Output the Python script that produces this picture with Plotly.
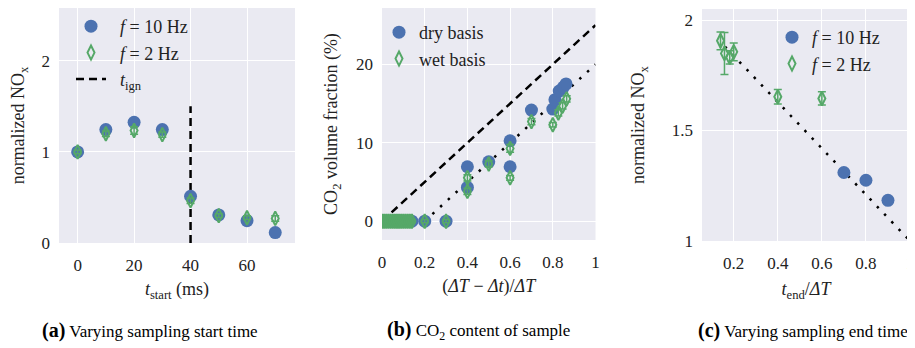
import plotly.graph_objects as go

# ---------------- data ----------------
# (a) varying sampling start time
a_t = [0, 10, 20, 30, 40, 50, 60, 70]
a_10hz = [1.0, 1.245, 1.325, 1.245, 0.513, 0.308, 0.245, 0.115]
a_2hz = [1.0, 1.20, 1.235, 1.19, 0.465, 0.30, 0.278, 0.27]
a_2hz_err = [0.02, 0.03, 0.04, 0.03, 0.03, 0.02, 0.02, 0.03]
a_ign_x = [40, 40]
a_ign_y = [0, 1.5]

# (b) CO2 content of sample
b_dry_x = [0, 0.01, 0.02, 0.03, 0.04, 0.05, 0.06, 0.07, 0.08, 0.09, 0.10, 0.11, 0.12, 0.13, 0.14,
           0.2, 0.3, 0.4, 0.4, 0.5, 0.6, 0.6, 0.7, 0.8, 0.81, 0.83, 0.85, 0.862]
b_dry_y = [0, 0, 0, 0, 0, 0, 0, 0, 0, 0, 0, 0, 0, 0, 0,
           0, 0, 6.94, 4.3, 7.57, 10.26, 6.94, 14.17, 14.3, 15.5, 16.6, 17.1, 17.5]
b_wet_x = [0, 0.01, 0.02, 0.03, 0.04, 0.05, 0.06, 0.07, 0.08, 0.09, 0.10, 0.11, 0.12, 0.13, 0.14,
           0.2, 0.3, 0.4, 0.4, 0.5, 0.6, 0.6, 0.7, 0.8, 0.826, 0.846, 0.865]
b_wet_y = [0, 0, 0, 0, 0, 0, 0, 0, 0, 0, 0, 0, 0, 0, 0,
           0, 0, 5.53, 3.8, 7.3, 9.28, 5.53, 12.7, 12.3, 13.8, 14.7, 15.6]
b_wet_err = [0.2] * 17 + [0.4, 0.4, 0.4, 0.5, 0.3, 0.4, 0.3, 0.4, 0.4, 0.4]
b_dash_x = [0.0, 1.0]
b_dash_y = [0.0, 25.0]
b_dot_x = [0.2, 1.0]
b_dot_y = [0.0, 20.0]

# (c) varying sampling end time
c_10hz_x = [0.7, 0.8, 0.9]
c_10hz_y = [1.31, 1.275, 1.184]
c_2hz_x = [0.14, 0.158, 0.182, 0.2, 0.4, 0.6]
c_2hz_y = [1.906, 1.849, 1.831, 1.856, 1.653, 1.645]
c_2hz_err = [0.04, 0.095, 0.03, 0.04, 0.033, 0.03]
c_dot_x = [0.16, 1.0]
c_dot_y = [1.88, 1.0]

# ---------------- style ----------------
BLUE = "#4C72B0"
GREEN = "#55A868"
BG = "#EAEAF2"
FONT = "Liberation Serif, Times New Roman, serif"
PAGE_W, PAGE_H = 915, 348
OFF = 8  # default body margin of the html page
W, H = PAGE_W - OFF, PAGE_H - OFF
NB = "\u00a0\u00a0"

fig = go.Figure()

circle = dict(symbol="circle", size=13, color=BLUE, line=dict(width=0))
diamond = dict(symbol="diamond-tall-open", size=10, color=GREEN, line=dict(width=2, color=GREEN))
dashed = dict(color="black", width=2.5, dash="8px,5px")
dotted = dict(color="black", width=2.5, dash="2.5px,8px")

# panel a
fig.add_trace(go.Scatter(x=a_ign_x, y=a_ign_y, mode="lines", line=dashed,
                         name=NB + "<i>t</i><sub>ign</sub>", xaxis="x", yaxis="y", legend="legend", legendrank=3))
fig.add_trace(go.Scatter(x=a_t, y=a_10hz, mode="markers", marker=circle,
                         name=NB + "<i>f</i> = 10 Hz", xaxis="x", yaxis="y", legend="legend", legendrank=1))
fig.add_trace(go.Scatter(x=a_t, y=a_2hz, mode="markers", marker=diamond,
                         error_y=dict(type="data", array=a_2hz_err, color=GREEN, thickness=1.5, width=4),
                         name=NB + "<i>f</i> = 2 Hz", xaxis="x", yaxis="y", legend="legend", legendrank=2))

# panel b
fig.add_trace(go.Scatter(x=b_dash_x, y=b_dash_y, mode="lines", line=dashed, showlegend=False,
                         xaxis="x2", yaxis="y2"))
fig.add_trace(go.Scatter(x=b_dot_x, y=b_dot_y, mode="lines", line=dotted, showlegend=False,
                         xaxis="x2", yaxis="y2"))
fig.add_trace(go.Scatter(x=b_dry_x, y=b_dry_y, mode="markers", marker=circle,
                         name="dry basis", xaxis="x2", yaxis="y2", legend="legend2", legendrank=1))
fig.add_trace(go.Scatter(x=b_wet_x, y=b_wet_y, mode="markers", marker=diamond,
                         error_y=dict(type="data", array=b_wet_err, color=GREEN, thickness=1.5, width=4),
                         name="wet basis", xaxis="x2", yaxis="y2", legend="legend2", legendrank=2))

# panel c
fig.add_trace(go.Scatter(x=c_dot_x, y=c_dot_y, mode="lines", line=dotted, showlegend=False,
                         xaxis="x3", yaxis="y3"))
fig.add_trace(go.Scatter(x=c_10hz_x, y=c_10hz_y, mode="markers", marker=circle,
                         name="<i>f</i> = 10 Hz", xaxis="x3", yaxis="y3", legend="legend3", legendrank=1))
fig.add_trace(go.Scatter(x=c_2hz_x, y=c_2hz_y, mode="markers", marker=diamond,
                         error_y=dict(type="data", array=c_2hz_err, color=GREEN, thickness=1.5, width=4),
                         name="<i>f</i> = 2 Hz", xaxis="x3", yaxis="y3", legend="legend3", legendrank=2))


def px_x(p):
    return (p - OFF) / W


def px_y(p):
    return 1 - (p - OFF) / H


tickfont = dict(family=FONT, size=17, color="#222")
titlefont = dict(family=FONT, size=18, color="#222")
common = dict(showgrid=True, gridcolor="white", gridwidth=1.2, zeroline=False, showline=False,
              ticks="", tickfont=tickfont, title_font=titlefont, fixedrange=True, automargin=False)
legfont = dict(family=FONT, size=18, color="#222")

fig.update_layout(
    template="none",
    width=W, height=H,
    margin=dict(l=0, r=0, t=0, b=0, pad=0),
    paper_bgcolor="white",
    plot_bgcolor=BG,
    font=dict(family=FONT, size=17, color="#222"),
    xaxis=dict(domain=[px_x(59), px_x(295)], range=[-6.6, 77], tickvals=[0, 20, 40, 60],
               ticklabelstandoff=10, title_text="<i>t</i><sub>start</sub> (ms)", title_standoff=8,
               anchor="y", **common),
    yaxis=dict(domain=[px_y(243), 1.0], range=[0, 2.58], tickvals=[0, 1, 2],
               ticklabelstandoff=8, title_text="normalized NO<sub>x</sub>", title_standoff=15,
               anchor="x", **common),
    xaxis2=dict(domain=[px_x(382), px_x(595.5)], range=[0, 1],
                tickvals=[0, 0.2, 0.4, 0.6, 0.8, 1], ticktext=["0", "0.2", "0.4", "0.6", "0.8", "1"],
                ticklabelstandoff=10, title_text="(<i>ΔT</i> − <i>Δt</i>)/<i>ΔT</i>", title_standoff=8,
                anchor="y2", **common),
    yaxis2=dict(domain=[px_y(240), 1.0], range=[-2.4, 27.19], tickvals=[0, 10, 20],
                ticklabelstandoff=8, title_text="CO<sub>2</sub> volume fraction (%)", title_standoff=13,
                anchor="x2", **common),
    xaxis3=dict(domain=[px_x(702), px_x(910)], range=[0.056, 1.0],
                tickvals=[0.2, 0.4, 0.6, 0.8, 1], ticktext=["0.2", "0.4", "0.6", "0.8", "1"],
                ticklabelstandoff=10, title_text="<i>t</i><sub>end</sub>/<i>ΔT</i>", title_standoff=10,
                anchor="y3", **common),
    yaxis3=dict(domain=[px_y(241), px_y(9)], range=[1, 2.05], tickvals=[1, 1.5, 2],
                ticktext=["1", "1.5", "2"],
                ticklabelstandoff=8, title_text="normalized NO<sub>x</sub>", title_standoff=22,
                anchor="x3", **common),
    legend=dict(x=px_x(71), y=px_y(6) if px_y(6) <= 1 else 1.0, xanchor="left", yanchor="top",
                bgcolor="rgba(0,0,0,0)", font=legfont, traceorder="normal", borderwidth=0),
    legend2=dict(x=px_x(379), y=px_y(14), xanchor="left", yanchor="top", bgcolor="rgba(0,0,0,0)",
                 font=legfont, traceorder="normal", borderwidth=0),
    legend3=dict(x=px_x(772), y=px_y(19), xanchor="left", yanchor="top", bgcolor="rgba(0,0,0,0)",
                 font=legfont, traceorder="normal", borderwidth=0),
)

captions = [
    (40, "left", "<b><span style='font-size:20px'>(a)</span></b> Varying sampling start time"),
    (385, "left", "<b><span style='font-size:20px'>(b)</span></b> CO<sub>2</sub> content of sample"),
    (910, "right", "<b><span style='font-size:20px'>(c)</span></b> Varying sampling end time"),
]
for xpx, anchor, txt in captions:
    fig.add_annotation(x=px_x(xpx), y=px_y(330), xref="paper", yref="paper", xanchor=anchor,
                       yanchor="middle", showarrow=False, text=txt,
                       font=dict(family=FONT, size=17, color="black"))

fig.write_html("out.html")
